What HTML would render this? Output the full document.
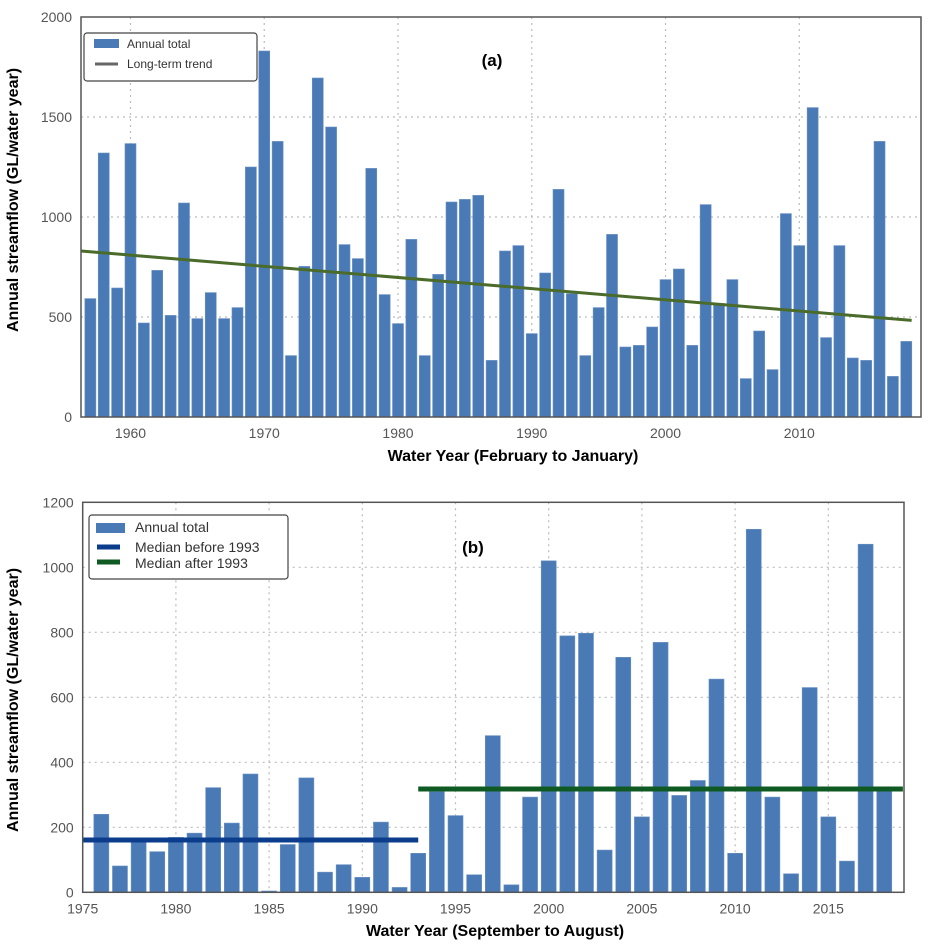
<!DOCTYPE html>
<html><head><meta charset="utf-8"><style>
html,body{margin:0;padding:0;background:#fff;}
svg{display:block;font-family:"Liberation Sans",sans-serif;}
.tick{fill:#555;font-size:14px;}
.title{fill:#000;font-weight:bold;font-size:16px;}
</style></head><body>
<svg id="chart" width="931" height="948" viewBox="0 0 931 948"></svg>
<script>
// Chart (a) data
const yearsA = [1957,1958,1959,1960,1961,1962,1963,1964,1965,1966,1967,1968,1969,1970,1971,1972,1973,1974,1975,1976,1977,1978,1979,1980,1981,1982,1983,1984,1985,1986,1987,1988,1989,1990,1991,1992,1993,1994,1995,1996,1997,1998,1999,2000,2001,2002,2003,2004,2005,2006,2007,2008,2009,2010,2011,2012,2013,2014,2015,2016,2017,2018];
const valuesA = [592,1320,645,1367,470,733,508,1070,492,622,492,547,1250,1830,1378,307,753,1695,1450,862,792,1243,612,467,888,307,713,1075,1088,1108,283,830,857,417,720,1138,617,307,547,913,350,358,450,687,740,358,1062,567,687,192,430,237,1017,857,1547,397,857,295,283,1378,203,378];
const trendYearsA = [1956.3, 2018.4];
const trendValuesA = [830, 483];
const xTicksA = [1960,1970,1980,1990,2000,2010];
const yTicksA = [0,500,1000,1500,2000];
// Chart (b) data
const yearsB = [1976,1977,1978,1979,1980,1981,1982,1983,1984,1985,1986,1987,1988,1989,1990,1991,1992,1993,1994,1995,1996,1997,1998,1999,2000,2001,2002,2003,2004,2005,2006,2007,2008,2009,2010,2011,2012,2013,2014,2015,2016,2017,2018];
const valuesB = [240,81,155,125,169,182,322,213,364,4,147,352,62,85,46,216,15,120,310,236,54,482,23,293,1020,789,797,130,723,232,769,298,344,656,120,1117,293,57,630,232,96,1071,315];
const medianBeforeYears = [1975, 1993];
const medianBeforeValue = [161];
const medianAfterYears = [1993, 2019];
const medianAfterValue = [318];
const xTicksB = [1975,1980,1985,1990,1995,2000,2005,2010,2015];
const yTicksB = [0,200,400,600,800,1000,1200];

const NS = "http://www.w3.org/2000/svg";
const svg = document.getElementById('chart');
function mk(tag, attrs, parent){const e=document.createElementNS(NS,tag);for(const k in attrs)e.setAttribute(k,attrs[k]);(parent||svg).appendChild(e);return e;}

// axis fns
const A = {x0:81,x1:921,y0:417,y1:17,xmin:1956.3,xmax:2019.1,ymax:2000};
const B = {x0:82.7,x1:904,y0:892.3,y1:502.3,xmin:1975,xmax:2019.06,ymax:1200};
function sx(c,v){return c.x0+(v-c.xmin)/(c.xmax-c.xmin)*(c.x1-c.x0);}
function sy(c,v){return c.y0-v/c.ymax*(c.y0-c.y1);}

function drawAxes(c, xt, yt, gname){
  const g = mk('g',{});
  
  
  xt.forEach(t=>{const x=sx(c,t);
    const l=mk('line',{x1:x,x2:x,y1:c.y1,y2:c.y0,stroke:'#bbb','stroke-dasharray':'2,4','stroke-width':1.2},g);
     
    const tx=mk('text',{x:x,y:c.y0+21,'text-anchor':'middle',class:'tick'},g);
    tx.textContent=t;
     
  });
  yt.forEach(t=>{const y=sy(c,t);
    if(t>0&&t<c.ymax){const l=mk('line',{x1:c.x0,x2:c.x1,y1:y,y2:y,stroke:'#bbb','stroke-dasharray':'2,4','stroke-width':1.2},g);
     }
    const tx=mk('text',{x:c.x0-9,y:y+5,'text-anchor':'end',class:'tick'},g);
    tx.textContent=t;
     
  });
}
function drawBars(c, yrs, vals, w, name){
  const g=mk('g',{});
  
  
  yrs.forEach((yr,i)=>{
    const xc=sx(c,yr), y=sy(c,vals[i]);
    const r=mk('rect',{x:xc-w/2,y:y,width:w,height:c.y0-y,fill:'#4a7ab5',stroke:'#6a92c4','stroke-width':0.6},g);
     
  });
}
function frame(c,name){
  const r=mk('rect',{x:c.x0,y:c.y1,width:c.x1-c.x0,height:c.y0-c.y1,fill:'none',stroke:'#555','stroke-width':1.5});
   
}

// ---- Chart A ----
drawAxes(A,xTicksA,yTicksA,'chart-a');
drawBars(A,yearsA,valuesA,11,'chart-a-bars');
const trend=mk('line',{x1:sx(A,trendYearsA[0]),y1:sy(A,trendValuesA[0]),x2:sx(A,trendYearsA[1]),y2:sy(A,trendValuesA[1]),stroke:'#4a6b2a','stroke-width':3});
 
frame(A,'chart-a-frame');

// ---- Chart B ----
drawAxes(B,xTicksB,yTicksB,'chart-b');
drawBars(B,yearsB,valuesB,15,'chart-b-bars');
const mb=mk('line',{x1:sx(B,medianBeforeYears[0]),x2:sx(B,medianBeforeYears[1]),y1:sy(B,medianBeforeValue[0]),y2:sy(B,medianBeforeValue[0]),stroke:'#0b3d8c','stroke-width':5});
 
const ma=mk('line',{x1:sx(B,medianAfterYears[0]),x2:sx(B,medianAfterYears[1]),y1:sy(B,medianAfterValue[0]),y2:sy(B,medianAfterValue[0]),stroke:'#0f5a23','stroke-width':5});
 
frame(B,'chart-b-frame');
</script>
<!-- static labels & legends -->
<svg width="931" height="948" style="position:absolute;left:0;top:0">
  <g font-family="Liberation Sans, sans-serif">
    <text x="18" y="200" transform="rotate(-90 18 200)" text-anchor="middle" class="title" font-weight="bold" font-size="16">Annual streamflow (GL/water year)</text>
    <text x="513" y="461" text-anchor="middle" font-weight="bold" font-size="16">Water Year (February to January)</text>
    <text x="492" y="66" text-anchor="middle" font-weight="bold" font-size="17">(a)</text>
    <g>
      <rect x="84" y="33" width="173" height="48" rx="3" fill="#fff" stroke="#444" stroke-width="1.2"/>
      <rect x="94" y="39" width="25" height="9" fill="#4a7ab5"/>
      <text x="127" y="48" font-size="12" fill="#333">Annual total</text>
      <line x1="95" x2="118" y1="64" y2="64" stroke="#666" stroke-width="3"/>
      <text x="127" y="68" font-size="12" fill="#333">Long-term trend</text>
    </g>
    <text x="18" y="700" transform="rotate(-90 18 700)" text-anchor="middle" font-weight="bold" font-size="16">Annual streamflow (GL/water year)</text>
    <text x="495" y="936" text-anchor="middle" font-weight="bold" font-size="16">Water Year (September to August)</text>
    <text x="473" y="553" text-anchor="middle" font-weight="bold" font-size="17">(b)</text>
    <g>
      <rect x="89" y="515" width="199" height="64" rx="3" fill="#fff" stroke="#444" stroke-width="1.2"/>
      <rect x="96" y="523" width="29" height="10" fill="#4a7ab5"/>
      <text x="135" y="532" font-size="14" fill="#333">Annual total</text>
      <line x1="97" x2="120" y1="547" y2="547" stroke="#0b3d8c" stroke-width="5"/>
      <text x="135" y="552" font-size="14" fill="#333">Median before 1993</text>
      <line x1="97" x2="120" y1="562" y2="562" stroke="#0f5a23" stroke-width="5"/>
      <text x="135" y="568" font-size="14" fill="#333">Median after 1993</text>
    </g>
  </g>
</svg>
</body></html>
